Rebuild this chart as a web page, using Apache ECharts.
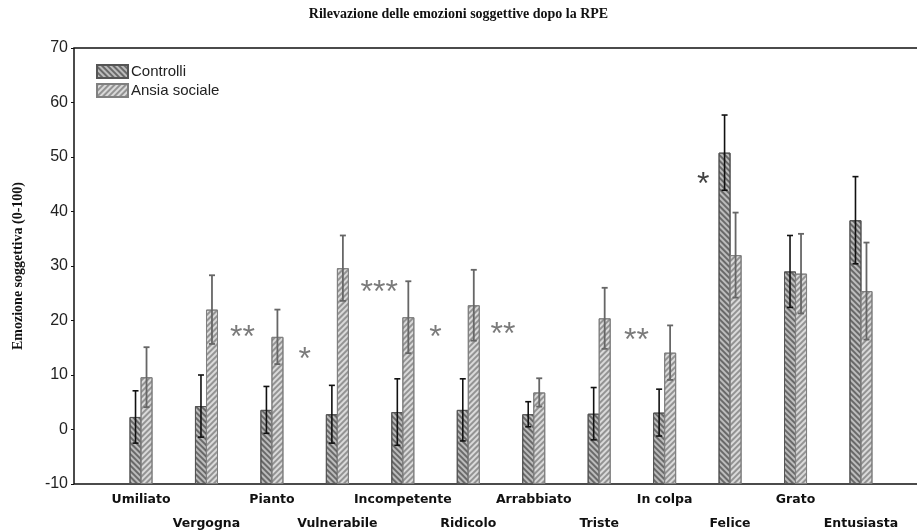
<!DOCTYPE html>
<html>
<head>
<meta charset="utf-8">
<script src="https://cdn.jsdelivr.net/npm/echarts@6/dist/echarts.min.js"></script>
<style>
  html, body { margin: 0; padding: 0; background: #fff; }
  #main { width: 917px; height: 532px; }
</style>
</head>
<body>
<div id="main"></div>
<script>
// dati
const categories = ['Umiliato', 'Vergogna', 'Pianto', 'Vulnerabile', 'Incompetente', 'Ridicolo',
  'Arrabbiato', 'Triste', 'In colpa', 'Felice', 'Grato', 'Entusiasta'];
const controlliMean = [2.3, 4.3, 3.6, 2.8, 3.2, 3.6, 2.8, 2.9, 3.1, 50.8, 29.0, 38.4];
const controlliErr = [4.8, 5.7, 4.3, 5.3, 6.1, 5.7, 2.3, 4.8, 4.3, 6.9, 6.6, 8.0];
const ansiaMean = [9.6, 22.0, 17.0, 29.6, 20.6, 22.8, 6.8, 20.4, 14.1, 32.0, 28.6, 25.4];
const ansiaErr = [5.5, 6.3, 5.0, 6.0, 6.6, 6.5, 2.6, 5.6, 5.0, 7.8, 7.3, 8.9];
const yTicks = [-10, 0, 10, 20, 30, 40, 50, 60, 70];

// asterischi di significatività (x in unità di categoria)
const sigX = [1.55, 2.5, 3.64, 4.5, 5.53, 7.57, 8.59];
const sigY = [18.3, 14.2, 26.5, 18.3, 18.8, 17.7, 46.3];
const sigText = ['**', '*', '***', '*', '**', '**', '*'];
const sigGroup = ['ansia', 'ansia', 'ansia', 'ansia', 'ansia', 'ansia', 'controlli'];

let myChart = echarts.init(document.getElementById('main'));

const sans = '"Liberation Sans", Arial, sans-serif';
const serif = '"Liberation Serif", "Times New Roman", serif';

// barre d'errore
function errorBars(shift, color, width) {
  return function (params, api) {
    const i = api.value(0);
    const m = api.value(1);
    const e = api.value(2);
    const top = api.coord([i, m + e]);
    const bot = api.coord([i, m - e]);
    const x = top[0] + shift;
    const st = { stroke: color, lineWidth: width };
    return {
      type: 'group',
      children: [
        { type: 'line', shape: { x1: x, y1: top[1], x2: x, y2: bot[1] }, style: st },
        { type: 'line', shape: { x1: x - 3, y1: top[1], x2: x + 3, y2: top[1] }, style: st },
        { type: 'line', shape: { x1: x - 3, y1: bot[1], x2: x + 3, y2: bot[1] }, style: st }
      ]
    };
  };
}

let option = {
  backgroundColor: '#fff',
  animation: false,
  title: {
    text: 'Rilevazione delle emozioni soggettive dopo la RPE',
    left: 'center',
    top: 2,
    textStyle: { fontFamily: serif, fontSize: 14, fontWeight: 'bold', color: '#111' }
  },
  legend: {
    orient: 'vertical',
    left: 91,
    top: 59,
    itemWidth: 31,
    itemHeight: 13,
    itemGap: 4,
    icon: 'rect',
    data: ['Controlli', 'Ansia sociale'],
    textStyle: { fontFamily: sans, fontSize: 15, color: '#222', padding: [0, 0, 0, -2] }
  },
  grid: [
    // cornice e asse y
    { left: 74, right: -3, top: 48, bottom: 48, show: true, borderColor: '#111', borderWidth: 1.5, outerBoundsMode: 'none' },
    // barre
    { left: 108.3, right: 23.3, top: 48, bottom: 48, outerBoundsMode: 'none' }
  ],
  xAxis: [
    { gridIndex: 0, type: 'value', min: -1.024, max: 11.902, show: false },
    {
      gridIndex: 1,
      type: 'category',
      data: categories,
      axisLine: { show: false },
      axisTick: { show: false },
      axisLabel: {
        interval: 0,
        margin: 4,
        formatter: (v, i) => (i % 2 ? '\n' + v : v),
        fontFamily: '"DejaVu Sans", sans-serif',
        fontWeight: 'bold',
        fontSize: 12.5,
        color: '#111',
        lineHeight: 24
      }
    }
  ],
  yAxis: [
    {
      gridIndex: 0,
      type: 'value',
      min: yTicks[0],
      max: yTicks[yTicks.length - 1],
      interval: 10,
      name: 'Emozione soggettiva (0-100)',
      nameLocation: 'middle',
      nameGap: 49,
      nameTextStyle: { fontFamily: serif, fontSize: 14, fontWeight: 'bold', color: '#111' },
      axisLine: { show: false, onZero: false },
      axisTick: { show: true, length: 3, lineStyle: { color: '#111' } },
      axisLabel: { fontFamily: sans, fontSize: 16, color: '#222', margin: 6 },
      splitLine: { show: false }
    },
    { gridIndex: 1, type: 'value', min: -10, max: 70, interval: 10, startValue: -10, show: false }
  ],
  series: [
    {
      name: 'Controlli',
      type: 'bar',
      xAxisIndex: 1,
      yAxisIndex: 1,
      barWidth: 12,
      barGap: '-8%',
      data: controlliMean,
      itemStyle: {
        color: '#bcbcbc',
        borderColor: '#555',
        borderWidth: 1,
        decal: {
          symbol: 'rect', symbolSize: 1, dashArrayX: [1, 0], dashArrayY: [1.2, 2],
          rotation: Math.PI / 4, color: 'rgba(50,50,50,0.6)'
        }
      }
    },
    {
      name: 'Ansia sociale',
      type: 'bar',
      xAxisIndex: 1,
      yAxisIndex: 1,
      barWidth: 12,
      data: ansiaMean,
      itemStyle: {
        color: '#dadada',
        borderColor: '#808080',
        borderWidth: 1,
        decal: {
          symbol: 'rect', symbolSize: 1, dashArrayX: [1, 0], dashArrayY: [1.2, 2],
          rotation: -Math.PI / 4, color: 'rgba(100,100,100,0.6)'
        }
      }
    },
    {
      type: 'custom',
      xAxisIndex: 1,
      yAxisIndex: 1,
      z: 5,
      renderItem: errorBars(-5.5, '#111', 1.6),
      data: categories.map((c, i) => [i, controlliMean[i], controlliErr[i]])
    },
    {
      type: 'custom',
      xAxisIndex: 1,
      yAxisIndex: 1,
      z: 5,
      renderItem: errorBars(5.5, '#666', 1.8),
      data: categories.map((c, i) => [i, ansiaMean[i], ansiaErr[i]])
    },
    {
      type: 'scatter',
      xAxisIndex: 0,
      yAxisIndex: 0,
      symbolSize: 0,
      silent: true,
      data: sigX.map((x, i) => ({
        value: [x, sigY[i]],
        label: {
          show: true,
          position: 'inside',
          formatter: sigText[i],
          fontFamily: sans,
          fontSize: 32,
          color: sigGroup[i] === 'controlli' ? '#111' : '#5a5a5a',
          offset: [0, 8]
        }
      }))
    }
  ]
};

myChart.setOption(option);
</script>
</body>
</html>
